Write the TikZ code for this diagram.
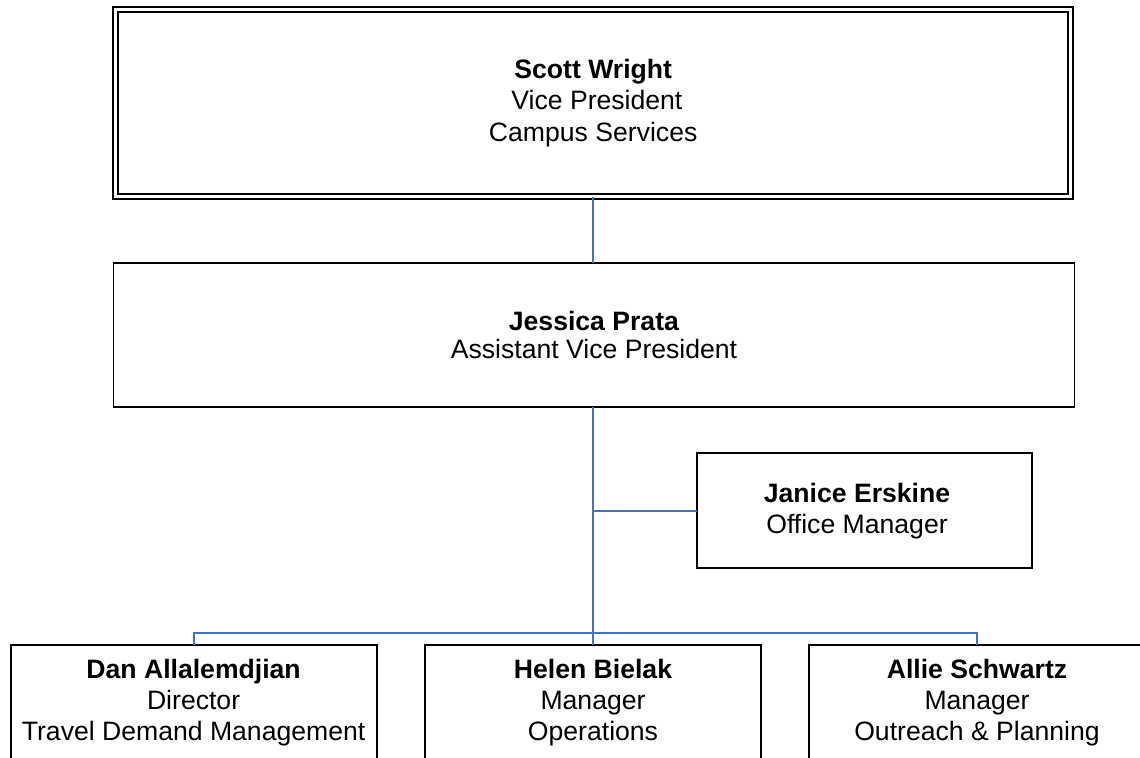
\documentclass[tikz,border=0pt]{standalone}
\usepackage{fontspec}
\setmainfont{Liberation Sans}
\usepackage{tikz}

\definecolor{linkblue}{RGB}{68,114,196}

\begin{document}
\begin{tikzpicture}[x=.5pt,y=-.5pt,
  box/.style={draw=black,line width=0.9pt,fill=white,inner sep=0pt,outer sep=0pt,align=center,font=\fontsize{13.3}{15.6}\selectfont},
  boxtext/.style={inner sep=0pt,outer sep=0pt,align=center,font=\fontsize{13.3}{15.6}\selectfont},
  link/.style={draw=linkblue,line width=1pt}]
\path[use as bounding box] (0,0) rectangle (1140,757);
\path[fill=white,draw=none] (0,0) rectangle (1140,757);
% top
\node[box,double,line width=1pt,double distance=1.5pt,minimum width=477.6pt,minimum height=93.6pt] (scott) at (593.2,103) {\textbf{Scott Wright}\\\mbox{}\ Vice President\\Campus Services};
\node[box,minimum width=480.5pt,minimum height=72pt,font=\fontsize{13.3}{14.2}\selectfont] (jessica) at (594,335) {\textbf{Jessica Prata}\\Assistant Vice President};
% office
\node[box,minimum width=167.5pt,minimum height=57.5pt] (janice) at (864.8,510.8) {};
\node[boxtext] (janicetext) at (857,510.8) {\textbf{Janice Erskine}\\Office Manager};
% bottom row
\node[box,minimum width=183pt,minimum height=57.5pt] (dan) at (193.6,702.5) {\textbf{Dan Allalemdjian}\\Director\\Travel Demand Management};
\node[box,minimum width=168pt,minimum height=57.5pt] (helen) at (593,702.5) {\textbf{Helen Bielak}\\Manager\\Operations};
\node[box,minimum width=168pt,minimum height=57.5pt] (allie) at (977,702.5) {\textbf{Allie Schwartz}\\Manager\\Outreach \& Planning};
\coordinate (bus) at (593,633);
% lines
\draw[link] (scott.south) -- (scott.south |- jessica.north);
\draw[link] (jessica.south -| helen.north) -- (helen.north);
\draw[link] (janice.west) -- (janice.west -| helen.north);
\draw[link] (dan.north) |- (bus) -| (allie.north);
\end{tikzpicture}
\end{document}
